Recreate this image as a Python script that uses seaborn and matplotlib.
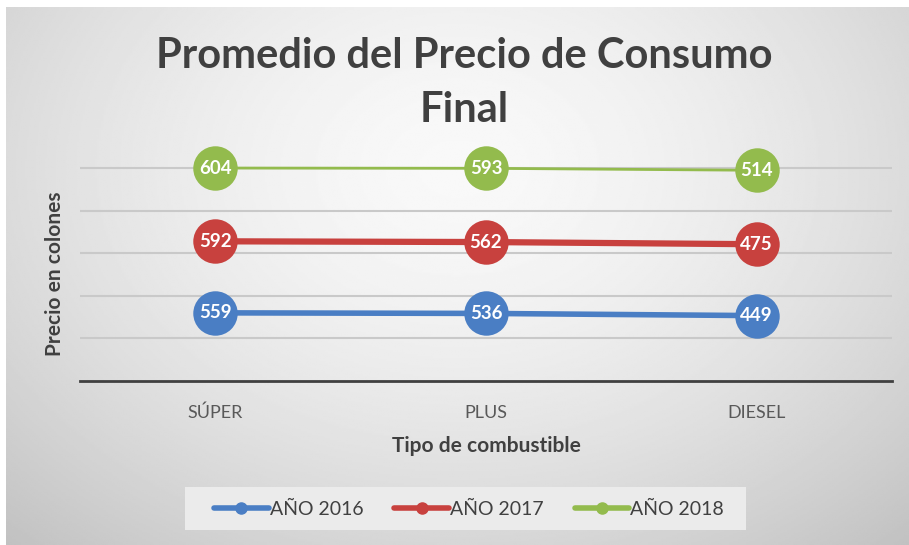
import numpy as np
import matplotlib
matplotlib.use("Agg")
import matplotlib.pyplot as plt
from matplotlib.lines import Line2D
from matplotlib.patches import Rectangle
import seaborn as sns

# ---- data ----
categories = ["SÚPER", "PLUS", "DIESEL"]
series_names = ["AÑO 2016", "AÑO 2017", "AÑO 2018"]
values_2016 = [559, 536, 449]
values_2017 = [592, 562, 475]
values_2018 = [604, 593, 514]
title_lines = ["Promedio del Precio de Consumo", "Final"]
x_label = "Tipo de combustible"
y_label = "Precio en colones"

# ---- styles / layout ----
colors = ["#4A7EC4", "#C8413E", "#93BB4D"]
line_widths = [4.0, 4.5, 2.0]
levels = [1.60, 3.28, 5.0]          # vertical position of each series band (grid units)
units_per_grid = 1700.0
ytop = 5.4

sns.set_theme(style="white")
plt.rcParams["font.family"] = ["Lato", "DejaVu Sans"]

W, H = 909, 545
fig = plt.figure(figsize=(W / 100, H / 100), dpi=100)
fig.patch.set_facecolor("white")

# background gradient
bg = fig.add_axes([6 / W, 0, 1 - 6 / W, (H - 7) / H], zorder=-10)
yy, xx = np.mgrid[0:1:300j, 0:1:500j]
d = np.sqrt(((xx - 0.50) / 0.75) ** 2 + ((yy - 0.30) / 0.95) ** 2)
shade = 0.975 - 0.22 * np.clip(d, 0, 1.2) ** 1.6
bg.imshow(shade, cmap="gray", vmin=0, vmax=1, aspect="auto", extent=[0, 1, 1, 0])
bg.set_axis_off()

left, right = 80 / W, 892 / W
bottom, top = (H - 381) / H, (H - 151) / H
ax = fig.add_axes([left, bottom, right - left, top - bottom])
ax.set_facecolor("none")
ax.set_xlim(-0.5, 2.5)
ax.set_ylim(0, ytop)
ax.set_yticks([1, 2, 3, 4, 5])
ax.yaxis.grid(True, color="#c9c9c9", linewidth=1.5)
ax.set_yticklabels([])
ax.tick_params(axis="y", length=0)
x_pos = np.arange(len(categories))
ax.set_xticks(x_pos)
ax.set_xticklabels(categories, fontsize=13, color="#595959")
ax.tick_params(axis="x", length=0, pad=17)
for s in ["top", "right", "left"]:
    ax.spines[s].set_visible(False)
ax.spines["bottom"].set_color("#404040")
ax.spines["bottom"].set_linewidth(2.0)

fig.text((left + right) / 2, 1 - 446 / H, x_label, ha="center", va="center",
         fontsize=15, fontweight="bold", color="#404040")
fig.text(55 / W, 1 - 274 / H, y_label, ha="center", va="center", rotation=90,
         fontsize=15, fontweight="bold", color="#404040")

all_values = [values_2016, values_2017, values_2018]
for vals, col, lw, lev in zip(all_values, colors, line_widths, levels):
    axi = ax.twinx()
    v0 = vals[0]
    axi.set_ylim(v0 - lev * units_per_grid, v0 + (ytop - lev) * units_per_grid)
    sns.lineplot(x=x_pos, y=vals, ax=axi, color=col, linewidth=lw, marker="o",
                 markersize=32, markeredgewidth=0, legend=False)
    for xi, v in zip(x_pos, vals):
        axi.text(xi, v, str(v), ha="center", va="center", color="white",
                 fontsize=13.5, fontweight="bold", zorder=5)
    axi.set_axis_off()
    for ln in axi.lines:
        ln.set_clip_on(False)

fig.text(464 / W, 1 - 68 / H, title_lines[0], ha="center", va="baseline", fontsize=30,
         fontweight="bold", color="#404040")
fig.text(464 / W, 1 - 122 / H, title_lines[1], ha="center", va="baseline", fontsize=30,
         fontweight="bold", color="#404040")

# legend background box
fig.patches.append(Rectangle((185 / W, 1 - 530 / H), (746 - 185) / W, 43 / H,
                             transform=fig.transFigure, facecolor="#ebebeb",
                             edgecolor="none", zorder=-5))
handles = [Line2D([0], [0], color=c, linewidth=4, marker="o", markersize=8)
           for c in colors]
leg = fig.legend(handles, series_names, loc="center", bbox_to_anchor=(469 / W, 1 - 509 / H),
                 ncol=3, fontsize=14, frameon=False, handlelength=2.8,
                 handletextpad=0.05, columnspacing=1.6, borderaxespad=0)
for t in leg.get_texts():
    t.set_color("#404040")

fig.savefig("out.png", dpi=100)
